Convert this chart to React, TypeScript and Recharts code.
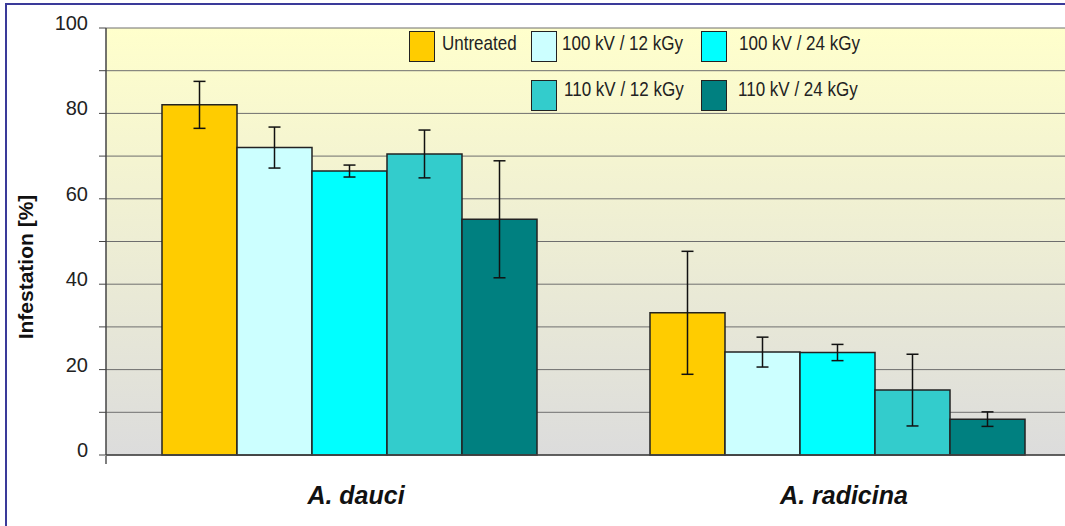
import { BarChart, Bar, XAxis, YAxis, CartesianGrid, ErrorBar, Legend, Label } from 'recharts';

const CATEGORIES = ['A. dauci', 'A. radicina'];
const SERIES_NAMES = ['Untreated', '100 kV / 12 kGy', '100 kV / 24 kGy', '110 kV / 12 kGy', '110 kV / 24 kGy'];

const UNTREATED = [82, 33.3];
const UNTREATED_ERR = [5.5, 14.4];
const KV100_12 = [72, 24.1];
const KV100_12_ERR = [4.8, 3.5];
const KV100_24 = [66.5, 24];
const KV100_24_ERR = [1.4, 1.9];
const KV110_12 = [70.5, 15.2];
const KV110_12_ERR = [5.6, 8.4];
const KV110_24 = [55.2, 8.4];
const KV110_24_ERR = [13.7, 1.7];

const Y_TICKS = [0, 10, 20, 30, 40, 50, 60, 70, 80, 90, 100];

const COLORS = ['#FFCC00', '#CCFFFF', '#00FFFF', '#33CCCC', '#008080'];
const FONT = '"Liberation Sans", Arial, sans-serif';

const VALUES = [UNTREATED, KV100_12, KV100_24, KV110_12, KV110_24];
const ERRORS = [UNTREATED_ERR, KV100_12_ERR, KV100_24_ERR, KV110_12_ERR, KV110_24_ERR];

const data = CATEGORIES.map((name, i) => {
  const row: Record<string, string | number> = { name };
  VALUES.forEach((vals, s) => {
    row[`s${s}`] = vals[i];
    row[`e${s}`] = ERRORS[s][i];
  });
  return row;
});

// where each legend entry sits (box left/top, text left/middle)
const LEGEND_POS = [
  { bx: 409, by: 31, tx: 442, ty: 44 },
  { bx: 531, by: 31, tx: 562, ty: 44 },
  { bx: 701, by: 31, tx: 739, ty: 44 },
  { bx: 531, by: 80, tx: 564, ty: 90 },
  { bx: 701, by: 80, tx: 738, ty: 90 },
];

function LegendContent(props: any) {
  const payload = props.payload || [];
  return (
    <div style={{ position: 'relative', width: 0, height: 0 }}>
      {payload.map((p: any) => {
        const idx = SERIES_NAMES.indexOf(p.value);
        const pos = LEGEND_POS[idx];
        if (!pos) return null;
        return (
          <div key={p.value}>
            <div
              style={{
                position: 'absolute',
                left: pos.bx,
                top: pos.by,
                width: 26,
                height: 31,
                boxSizing: 'border-box',
                background: p.color,
                border: '1.5px solid #222',
              }}
            />
            <span
              style={{
                position: 'absolute',
                left: pos.tx,
                top: pos.ty - 11,
                lineHeight: '22px',
                fontSize: 17,
                fontFamily: FONT,
                color: '#222',
                whiteSpace: 'nowrap',
                transform: 'scaleY(1.2)',
                transformOrigin: 'left center',
              }}
            >
              {p.value}
            </span>
          </div>
        );
      })}
    </div>
  );
}

function YTick(props: any) {
  const { x, y, payload } = props;
  if (payload.value % 20 !== 0) return null;
  return (
    <text x={x} y={y} dy={2} textAnchor="end" fontSize={20} fill="#222" fontFamily={FONT}>
      {payload.value}
    </text>
  );
}

function XTick(props: any) {
  const { x, y, payload } = props;
  return (
    <text
      x={x}
      y={y}
      dx={6}
      dy={49}
      textAnchor="middle"
      fontSize={25}
      fontWeight="bold"
      fontStyle="italic"
      fill="#111"
      fontFamily={FONT}
    >
      {payload.value}
    </text>
  );
}

function NoLabel() {
  return <g />;
}

function YLabel() {
  return (
    <text
      x={33}
      y={267}
      transform="rotate(-90, 33, 267)"
      textAnchor="middle"
      fontSize={21}
      fontWeight="bold"
      fill="#111"
      fontFamily={FONT}
    >
      Infestation [%]
    </text>
  );
}

export default function App() {
  return (
    <div
      style={{
        position: 'fixed',
        left: 0,
        top: 0,
        width: 1065,
        height: 526,
        overflow: 'hidden',
        background: '#fff',
        fontFamily: FONT,
      }}
    >
      <div
        style={{
          position: 'absolute',
          left: 5,
          top: 3,
          width: 1200,
          height: 700,
          borderLeft: '2px solid #3A3A99',
          borderTop: '2px solid #3A3A99',
        }}
      />
      <div style={{ position: 'absolute', left: 0, top: 0 }}>
        <BarChart
          width={1100}
          height={526}
          data={data}
          margin={{ top: 28, right: 18, bottom: 69, left: 0 }}
          barCategoryGap={56}
          barGap={0}
        >
          <defs>
            <linearGradient id="plotBg" x1="0" y1="0" x2="0" y2="1">
              <stop offset="0%" stopColor="#FFFFCC" />
              <stop offset="100%" stopColor="#DCDCDC" />
            </linearGradient>
          </defs>
          <CartesianGrid vertical={false} stroke="#6E6E6E" fill="url(#plotBg)" />
          <XAxis
            dataKey="name"
            height={1}
            tickLine={false}
            tickSize={0}
            tickMargin={0}
            axisLine={{ stroke: '#444', strokeWidth: 1.5 }}
            tick={<XTick />}
            interval={0}
          />
          <XAxis
            xAxisId="sep"
            type="number"
            domain={[0, 2]}
            ticks={[0, 1, 2]}
            interval={0}
            height={1}
            axisLine={false}
            tick={<NoLabel />}
            tickSize={8}
            tickLine={{ stroke: '#555', strokeWidth: 1.5 }}
          />
          <YAxis
            type="number"
            domain={[0, 100]}
            ticks={Y_TICKS}
            interval={0}
            width={106}
            tickSize={7}
            tickMargin={11}
            tick={<YTick />}
            axisLine={{ stroke: '#444', strokeWidth: 1.5 }}
            tickLine={{ stroke: '#444' }}
          >
            <Label content={<YLabel />} />
          </YAxis>
          <Legend
            content={<LegendContent />}
            layout="horizontal"
            verticalAlign="middle"
            align="center"
            wrapperStyle={{ left: 0, top: 0, width: 0, height: 0 }}
          />
          {SERIES_NAMES.map((name, s) => (
            <Bar
              key={name}
              dataKey={`s${s}`}
              name={name}
              fill={COLORS[s]}
              stroke="#222"
              strokeWidth={1.5}
              isAnimationActive={false}
            >
              <ErrorBar
                dataKey={`e${s}`}
                direction="y"
                width={6}
                stroke="#111"
                strokeWidth={1.5}
                isAnimationActive={false}
              />
            </Bar>
          ))}
        </BarChart>
      </div>
    </div>
  );
}
